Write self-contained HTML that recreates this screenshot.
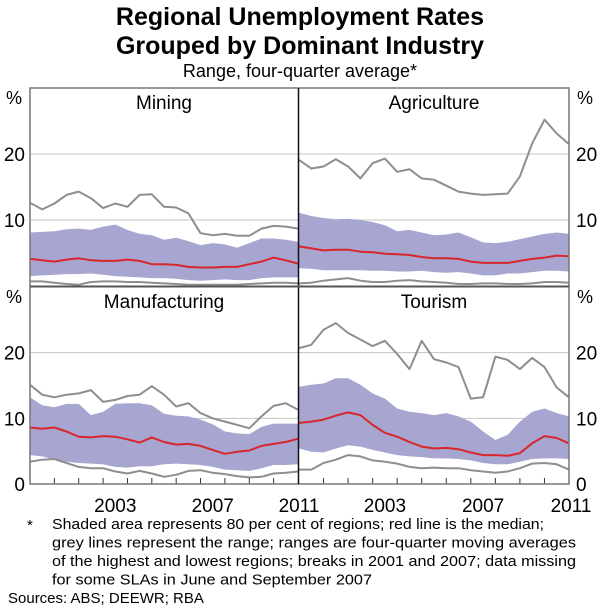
<!DOCTYPE html>
<html><head><meta charset="utf-8">
<style>
body{margin:0;background:#fff;}
svg{display:block;font-family:"Liberation Sans",Arial,sans-serif;}
</style></head>
<body>
<svg id="chart" width="600" height="612" viewBox="0 0 600 612" xmlns="http://www.w3.org/2000/svg">
<text x="300" y="25" text-anchor="middle" font-size="25" font-weight="bold">Regional Unemployment Rates</text>
<text x="300" y="54" text-anchor="middle" font-size="25" font-weight="bold">Grouped by Dominant Industry</text>
<text x="300" y="77" text-anchor="middle" font-size="18">Range, four-quarter average*</text>
<g id="plots"></g>
<g font-size="15">
<text x="27" y="530">*</text>
<text x="52" y="529" textLength="492" lengthAdjust="spacingAndGlyphs">Shaded area represents 80 per cent of regions; red line is the median;</text>
<text x="52" y="547.5" textLength="524" lengthAdjust="spacingAndGlyphs">grey lines represent the range; ranges are four-quarter moving averages</text>
<text x="52" y="566" textLength="524" lengthAdjust="spacingAndGlyphs">of the highest and lowest regions; breaks in 2001 and 2007; data missing</text>
<text x="52" y="584.5" textLength="320" lengthAdjust="spacingAndGlyphs">for some SLAs in June and September 2007</text>
<text x="8" y="603">Sources: ABS; DEEWR; RBA</text>
</g>
</svg>
<script>
// half-yearly points, 2000.0 .. 2011.0
const miningMax=[12.6,11.6,12.5,13.8,14.3,13.3,11.8,12.5,12.0,13.8,13.9,12.0,11.9,11.0,8.0,7.7,7.9,7.6,7.6,8.7,9.1,9.0,8.7];
const miningHigh=[8.1,8.2,8.3,8.6,8.7,8.5,9.0,9.3,8.5,7.9,7.7,7.0,7.3,6.8,6.2,6.5,6.3,5.8,6.5,7.2,7.2,7.0,6.7];
const miningMed=[4.1,3.9,3.7,4.0,4.2,3.9,3.8,3.8,4.0,3.8,3.3,3.3,3.2,2.9,2.8,2.8,2.9,2.9,3.3,3.7,4.3,3.9,3.4];
const miningLow=[1.5,1.6,1.7,1.8,1.8,1.9,1.7,1.5,1.4,1.3,1.2,1.2,1.1,0.9,0.8,0.9,1.0,0.9,0.9,1.2,1.3,1.3,1.3];
const miningMin=[0.7,0.7,0.5,0.3,0.2,0.6,0.7,0.7,0.6,0.6,0.5,0.4,0.3,0.2,0.2,0.2,0.2,0.2,0.3,0.4,0.5,0.5,0.4];

const agriMax=[19.1,17.8,18.1,19.2,18.1,16.3,18.6,19.3,17.3,17.7,16.3,16.1,15.2,14.3,14.0,13.8,13.9,14.0,16.6,21.6,25.2,23.1,21.5];
const agriHigh=[11.1,10.6,10.3,10.1,10.2,10.0,9.7,9.2,8.3,8.5,8.1,7.7,7.8,8.1,7.4,6.6,6.5,6.7,7.1,7.5,7.9,8.1,7.9];
const agriMed=[6.0,5.7,5.4,5.5,5.5,5.2,5.1,4.9,4.8,4.7,4.4,4.2,4.2,4.1,3.7,3.5,3.5,3.5,3.8,4.1,4.3,4.6,4.5];
const agriLow=[2.7,2.6,2.4,2.4,2.4,2.4,2.3,2.3,2.2,2.2,2.3,2.1,2.0,2.1,1.9,1.6,1.6,1.9,1.9,2.1,2.3,2.3,2.2];
const agriMin=[0.4,0.5,0.8,1.0,1.2,0.8,0.6,0.6,0.8,0.9,0.7,0.6,0.5,0.3,0.3,0.4,0.4,0.3,0.3,0.4,0.6,0.6,0.5];

const manuMax=[15.1,13.6,13.2,13.6,13.8,14.3,12.5,12.8,13.4,13.6,14.9,13.6,11.8,12.3,10.8,10.0,9.5,9.0,8.5,10.3,11.9,12.3,11.3];
const manuHigh=[13.2,12.0,11.7,12.2,12.2,10.5,11.0,12.2,12.3,12.3,12.0,10.7,10.4,10.3,9.8,9.1,8.0,7.7,7.6,8.7,9.2,9.2,9.2];
const manuMed=[8.6,8.4,8.6,8.0,7.2,7.1,7.3,7.2,6.8,6.3,7.1,6.4,6.0,6.1,5.8,5.2,4.6,4.9,5.1,5.8,6.1,6.4,6.9];
const manuLow=[4.4,4.2,3.7,3.4,3.2,3.1,3.0,2.6,2.5,2.7,2.7,3.0,3.1,3.0,2.9,2.6,2.2,2.1,2.0,2.4,2.9,2.9,3.0];
const manuMin=[3.4,3.7,3.8,3.2,2.6,2.4,2.4,1.9,1.6,2.0,1.6,1.1,1.4,2.0,2.1,1.7,1.5,1.2,1.0,1.1,1.6,1.7,1.9];

const tourMax=[20.7,21.2,23.5,24.5,23.0,22.0,21.0,21.8,19.8,17.5,21.8,19.0,18.5,17.8,13.0,13.2,19.4,18.9,17.5,19.2,17.8,14.7,13.2];
const tourHigh=[14.8,15.1,15.3,16.1,16.1,15.1,13.8,13.0,11.5,11.0,10.8,10.5,10.8,10.3,9.5,8.0,6.7,7.5,9.5,11.0,11.5,10.8,10.3];
const tourMed=[9.3,9.5,9.8,10.4,10.9,10.5,9.0,7.8,7.2,6.4,5.7,5.4,5.5,5.3,4.8,4.4,4.4,4.3,4.7,6.2,7.3,7.0,6.2];
const tourLow=[5.4,4.9,4.8,5.4,5.9,5.7,5.2,4.8,4.4,4.2,4.1,3.9,3.9,3.8,3.6,3.2,3.0,3.0,3.4,3.8,3.9,3.9,3.8];
const tourMin=[2.2,2.2,3.2,3.7,4.4,4.2,3.6,3.4,3.1,2.6,2.4,2.5,2.4,2.4,2.1,1.9,1.7,1.9,2.4,3.1,3.2,3.0,2.2];

const panelNames=["Mining","Agriculture","Manufacturing","Tourism"];
const yTicks=[0,10,20];
const xLabels=["2003","2007","2011"];
const xLabelYears=[2003.5,2007.5,2011.5];

const NS="http://www.w3.org/2000/svg";
const root=document.getElementById("plots");
function mk(tag,attrs,parent){const e=document.createElementNS(NS,tag);for(const k in attrs)e.setAttribute(k,attrs[k]);(parent||root).appendChild(e);return e;}

const panels=[
 {name:panelNames[0],x0:30,x1:298,y0:88,y1:286,max:miningMax,hi:miningHigh,med:miningMed,lo:miningLow,min:miningMin,key:"mining"},
 {name:panelNames[1],x0:299,x1:569,y0:88,y1:286,max:agriMax,hi:agriHigh,med:agriMed,lo:agriLow,min:agriMin,key:"agriculture"},
 {name:panelNames[2],x0:30,x1:298,y0:287,y1:484,max:manuMax,hi:manuHigh,med:manuMed,lo:manuLow,min:manuMin,key:"manufacturing"},
 {name:panelNames[3],x0:299,x1:569,y0:287,y1:484,max:tourMax,hi:tourHigh,med:tourMed,lo:tourLow,min:tourMin,key:"tourism"}
];

panels.forEach((p,pi)=>{
 const g=mk("g",{});
 
 
 const xs=t=>p.x0+(t-2000)/11*(p.x1-p.x0);
 const ys=v=>p.y1-v/30*(p.y1-p.y0);
 const xi=i=>xs(2000+i*0.5);
 [10,20].forEach(v=>{
  const l=mk("line",{x1:p.x0,x2:p.x1,y1:ys(v),y2:ys(v),stroke:"#c4c4c4","stroke-width":1},g);
  
  
 });
 let d="";
 p.hi.forEach((v,i)=>{d+=(i?"L":"M")+xi(i).toFixed(1)+","+ys(v).toFixed(1);});
 for(let i=p.lo.length-1;i>=0;i--) d+="L"+xi(i).toFixed(1)+","+ys(p.lo[i]).toFixed(1);
 const band=mk("path",{d:d+"Z",fill:"#a6a6d1",stroke:"none"},g);
 
 
 const line=(arr,col,w,nm)=>{
  let dd="";arr.forEach((v,i)=>{dd+=(i?"L":"M")+xi(i).toFixed(1)+","+ys(v).toFixed(1);});
  const e=mk("path",{d:dd,fill:"none",stroke:col,"stroke-width":w,"stroke-linejoin":"round"},g);
  
  
 };
 line(p.max,"#8e8e8e",2,p.key+'-max-line');
 line(p.min,"#8e8e8e",2,p.key+'-min-line');
 line(p.med,"#d8262b",2,p.key+'-median-line');
 const t=mk("text",{x:(p.x0+p.x1)/2,y:p.y0+21,"text-anchor":"middle","font-size":19},g);
 t.textContent=p.name;
 
 
 if(p.y1>400){
  for(let yr=2001;yr<2011;yr++){
   const tk=mk("line",{x1:xs(yr),x2:xs(yr),y1:p.y1,y2:p.y1-6,stroke:"#333","stroke-width":1},g);
   
   
  }
  xLabels.forEach((lb,k)=>{
   let xx=xs(xLabelYears[k]);
   if(k===2) xx=Math.min(xx,p.x1===569?571:299);
   const tl=mk("text",{x:xx,y:512,"text-anchor":"middle","font-size":19},g);
   tl.textContent=lb;
   
   
  });
 }
 const left=p.x0<100;
 yTicks.forEach(v=>{
  if(v===0 && p.y1<300) return;
  const yl=mk("text",{x:left?25:576,y:ys(v)+7,"text-anchor":left?"end":"start","font-size":19},g);
  yl.textContent=v;
  
  
 });
 const pc=mk("text",{x:left?14:585,y:p.y0+16,"text-anchor":"middle","font-size":18},g);
 pc.textContent="%";
 
 
});
const fr=mk("rect",{x:30,y:88,width:539,height:396,fill:"none",stroke:"#777","stroke-width":1.5});


const vd=mk("line",{x1:298.5,x2:298.5,y1:88,y2:484,stroke:"#111","stroke-width":1.5});


const hd=mk("line",{x1:30,x2:569,y1:286.5,y2:286.5,stroke:"#555","stroke-width":2});


</script>
</body></html>
